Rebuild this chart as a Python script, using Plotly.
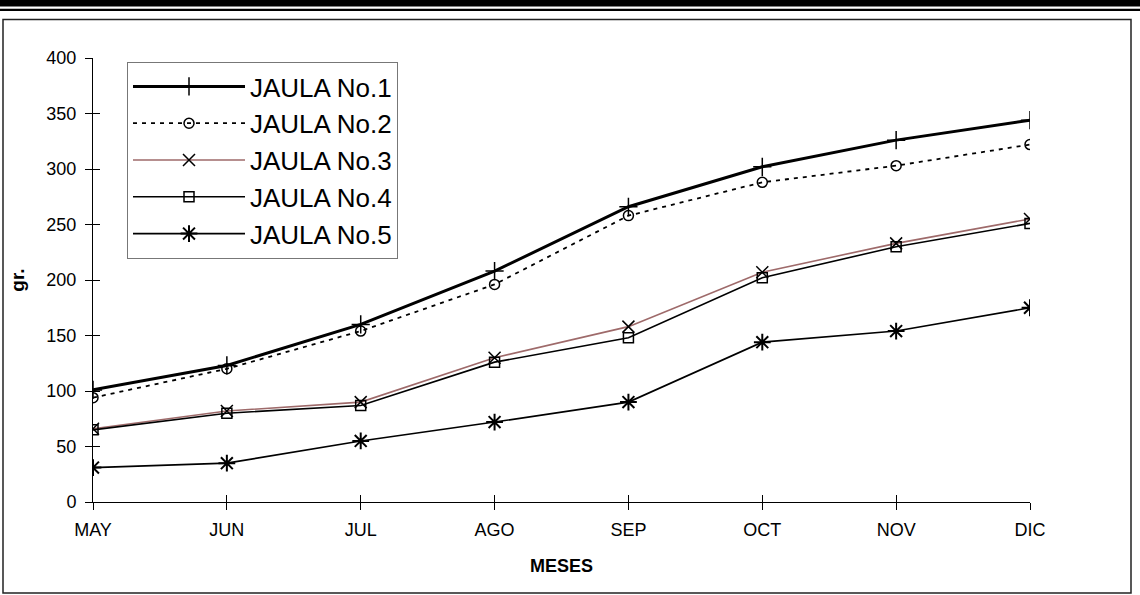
import plotly.graph_objects as go

months = ["MAY", "JUN", "JUL", "AGO", "SEP", "OCT", "NOV", "DIC"]
jaula1 = [101, 123, 160, 208, 266, 302, 326, 344]
jaula2 = [94, 120, 154, 196, 258, 288, 303, 322]
jaula3 = [66, 82, 90, 130, 158, 207, 233, 255]
jaula4 = [65, 80, 87, 126, 148, 202, 230, 251]
jaula5 = [31, 35, 55, 72, 90, 144, 154, 175]
names = ["JAULA No.1", "JAULA No.2", "JAULA No.3", "JAULA No.4", "JAULA No.5"]
y_ticks = [0, 50, 100, 150, 200, 250, 300, 350, 400]

W, H = 1140, 595
L, R, T, B = 93, 1030, 58, 502  # plot area in pixels


def px(x):
    return (x - L) / (R - L)


def py(y):
    return (B - y) / (B - T)


FONT = "Liberation Sans, Arial, sans-serif"

fig = go.Figure()

styles = [
    dict(line=dict(color="black", width=3),
         marker=dict(symbol="cross-thin", size=13, color="black", line=dict(color="black", width=1.5))),
    dict(line=dict(color="black", width=1.8, dash="4px,5px"),
         marker=dict(symbol="circle-open", size=10, color="black", line=dict(color="black", width=1.5))),
    dict(line=dict(color="#9e6a6a", width=1.6),
         marker=dict(symbol="x-thin", size=12, color="black", line=dict(color="black", width=1.5))),
    dict(line=dict(color="black", width=1.6),
         marker=dict(symbol="square-open", size=10, color="black", line=dict(color="black", width=1.5))),
    dict(line=dict(color="black", width=1.6),
         marker=dict(symbol="asterisk", size=14, color="black", line=dict(color="black", width=2))),
]

for name, vals, st in zip(names, [jaula1, jaula2, jaula3, jaula4, jaula5], styles):
    fig.add_trace(go.Scatter(x=months, y=vals, name=name, mode="lines+markers",
                             legendgroup=name, **st))

# empty trace on overlay axes for the inner half of crossing ticks
fig.add_trace(go.Scatter(x=[], y=[], xaxis="x2", yaxis="y2", showlegend=False, hoverinfo="skip"))

shapes = [
    # heavy rule and thin rule at the top
    dict(type="rect", xref="paper", yref="paper", x0=px(0), x1=px(W), y0=py(0), y1=py(6.5),
         fillcolor="black", line=dict(width=0), layer="above"),
    dict(type="rect", xref="paper", yref="paper", x0=px(0), x1=px(W), y0=py(8.7), y1=py(11),
         fillcolor="black", line=dict(width=0), layer="above"),
    # outer frame
    dict(type="rect", xref="paper", yref="paper", x0=px(3), x1=px(1131), y0=py(19.5), y1=py(593),
         fillcolor="rgba(0,0,0,0)", line=dict(color="#222", width=1.5), layer="below"),
]

fig.update_layout(
    width=W, height=H,
    margin=dict(l=L, r=W - R, t=T, b=H - B, pad=0),
    paper_bgcolor="white", plot_bgcolor="white",
    font=dict(family=FONT, color="black", size=18),
    showlegend=True,
    legend=dict(x=px(127), y=py(62), xanchor="left", yanchor="top",
                bgcolor="white", bordercolor="#777", borderwidth=1,
                font=dict(family=FONT, size=26, color="black"),
                tracegroupgap=5, itemwidth=112, traceorder="normal"),
    xaxis=dict(type="category", range=[0, 7], showgrid=False, zeroline=False,
               showline=True, linecolor="black", linewidth=1,
               ticks="outside", ticklen=7, tickcolor="black", tickwidth=1,
               tickfont=dict(family=FONT, size=18), ticklabelstandoff=4,
               title=dict(text="<b>MESES</b>", font=dict(family=FONT, size=18), standoff=20)),
    yaxis=dict(range=[0, 400], tickvals=y_ticks, showgrid=False, zeroline=False,
               showline=True, linecolor="black", linewidth=1,
               ticks="outside", ticklen=7, tickcolor="black", tickwidth=1,
               tickfont=dict(family=FONT, size=18), ticklabelstandoff=5,
               title=dict(text="<b>gr.</b>", font=dict(family=FONT, size=19), standoff=16)),
    xaxis2=dict(overlaying="x", anchor="y", range=[0, 7], dtick=1, showgrid=False, zeroline=False,
                showline=False, ticks="inside", ticklen=7, tickcolor="black", tickwidth=1,
                showticklabels=False),
    yaxis2=dict(overlaying="y", anchor="x", range=[0, 400], tickvals=y_ticks, showgrid=False,
                zeroline=False, showline=False, ticks="inside", ticklen=7, tickcolor="black",
                tickwidth=1, showticklabels=False),
    shapes=shapes,
)

fig.write_html("out.html", config={"displayModeBar": False},
               post_script="document.body.style.margin='0';")
